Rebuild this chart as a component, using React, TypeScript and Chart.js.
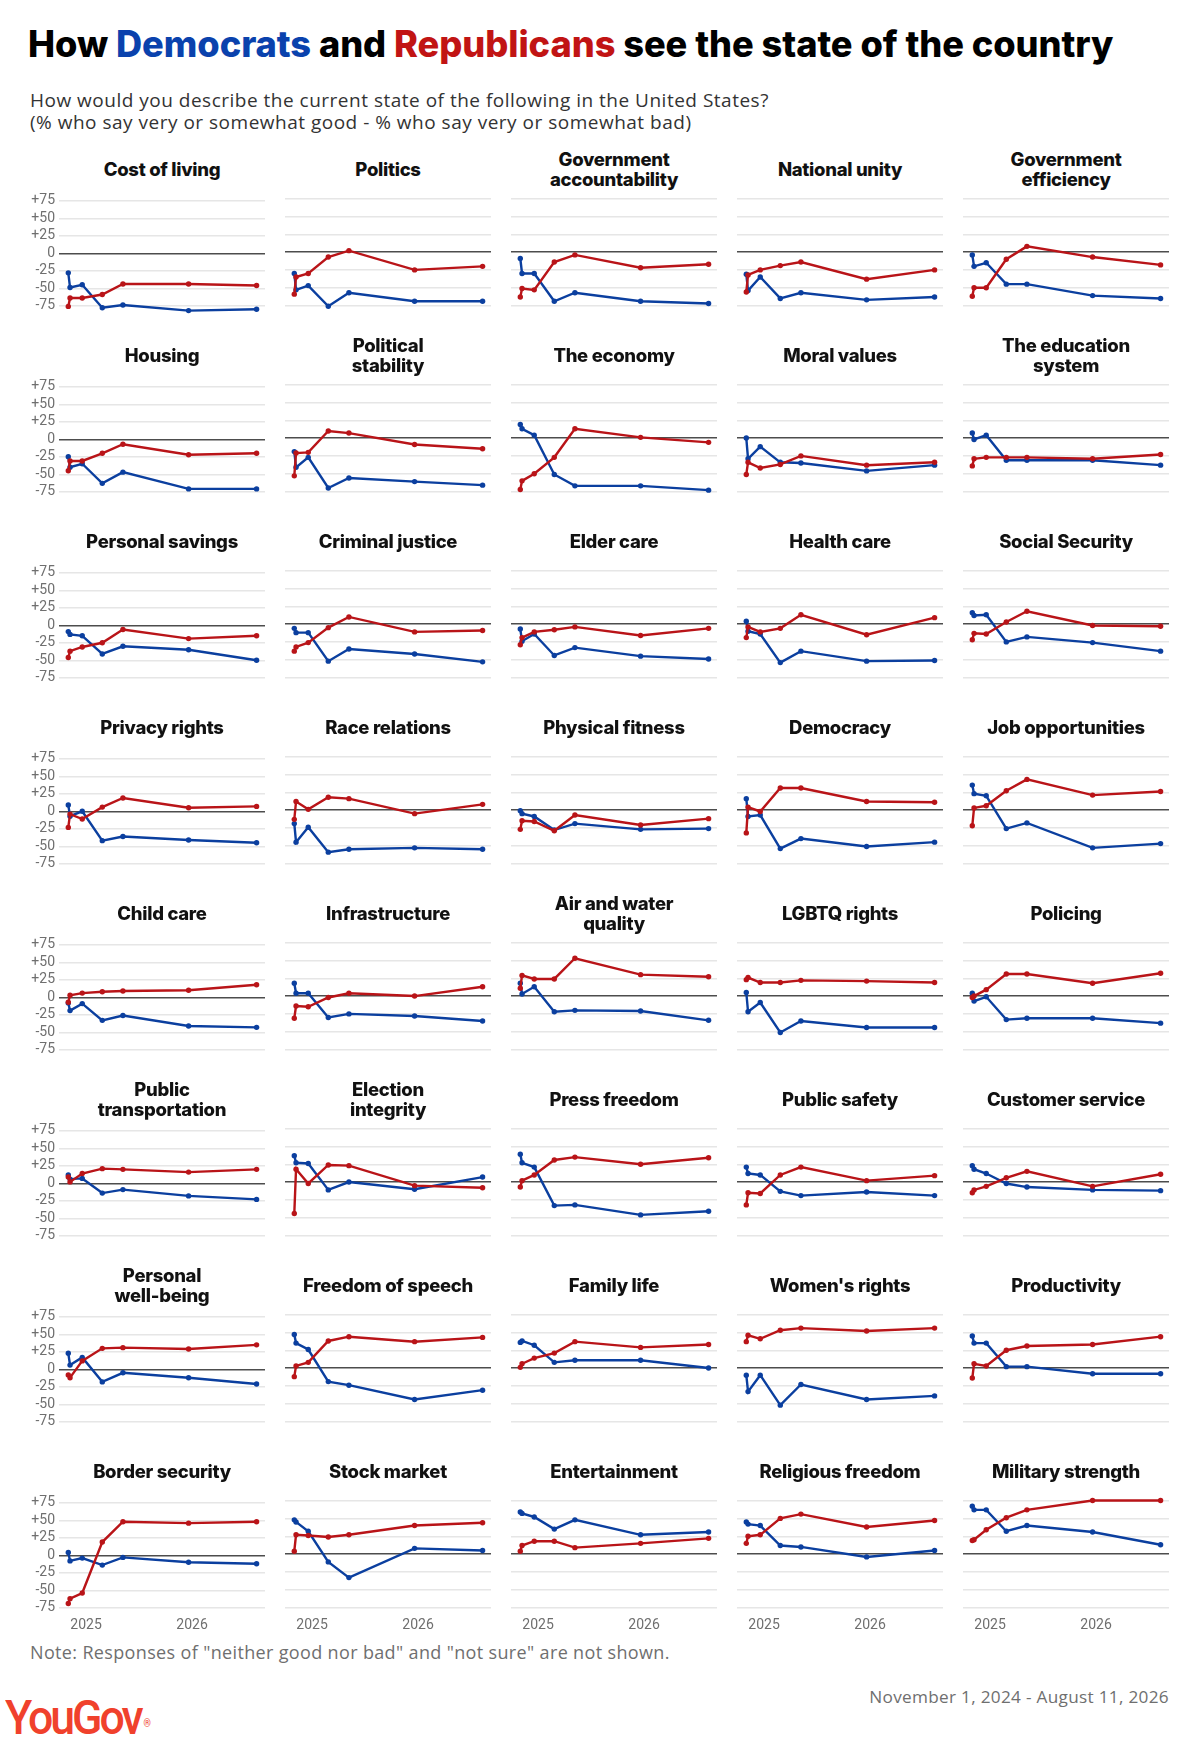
import React, { useEffect, useRef } from "react";
import { Chart, registerables } from "chart.js";

Chart.register(...registerables);

// ---------- DATA ----------
// survey dates, as days from January 1, 2025
const SURVEY_DAYS = [-61, -55, -13, 56, 127, 353, 587];
const X_TICKS = [0, 365];
const X_TICK_LABELS = ["2025", "2026"];
const Y_TICKS = [75, 50, 25, 0, -25, -50, -75];

const TOPICS = [
  "Cost of living", "Politics", "Government\naccountability", "National unity", "Government\nefficiency",
  "Housing", "Political\nstability", "The economy", "Moral values", "The education\nsystem",
  "Personal savings", "Criminal justice", "Elder care", "Health care", "Social Security",
  "Privacy rights", "Race relations", "Physical fitness", "Democracy", "Job opportunities",
  "Child care", "Infrastructure", "Air and water\nquality", "LGBTQ rights", "Policing",
  "Public\ntransportation", "Election\nintegrity", "Press freedom", "Public safety", "Customer service",
  "Personal\nwell-being", "Freedom of speech", "Family life", "Women's rights", "Productivity",
  "Border security", "Stock market", "Entertainment", "Religious freedom", "Military strength",
];

const DEMOCRATS = [
  [-28, -49, -45, -78, -74, -82, -80],
  [-30, -53, -47, -76, -57, -69, -69],
  [-9, -30, -30, -69, -57, -69, -72],
  [-31, -54, -35, -65, -57, -67, -63],
  [-4, -20, -15, -45, -45, -61, -65],
  [-25, -40, -35, -63, -47, -71, -71],
  [-19, -41, -27, -70, -56, -61, -66],
  [19, 13, 4, -51, -67, -67, -73],
  [0, -29, -12, -34, -35, -46, -38],
  [7, -2, 4, -31, -31, -31, -38],
  [-9, -13, -15, -41, -30, -35, -50],
  [-6, -12, -12, -52, -35, -42, -53],
  [-7, -24, -14, -44, -33, -45, -49],
  [4, -10, -14, -54, -38, -52, -51],
  [16, 12, 13, -25, -18, -26, -38],
  [9, -7, 0, -42, -36, -41, -45],
  [-19, -45, -24, -59, -55, -53, -55],
  [-1, -5, -9, -28, -19, -27, -26],
  [16, -9, -7, -54, -40, -51, -45],
  [35, 23, 20, -26, -18, -53, -47],
  [-8, -19, -9, -33, -26, -41, -43],
  [18, 4, 4, -30, -25, -28, -35],
  [18, 3, 13, -22, -20, -21, -34],
  [5, -22, -9, -51, -35, -44, -44],
  [4, -7, -1, -33, -31, -31, -38],
  [12, 6, 7, -14, -9, -18, -23],
  [37, 27, 26, -11, 0, -10, 7],
  [39, 27, 21, -33, -32, -46, -41],
  [21, 12, 10, -13, -19, -14, -19],
  [23, 18, 12, -2, -7, -11, -12],
  [23, 6, 17, -18, -5, -12, -21],
  [47, 35, 26, -19, -24, -44, -31],
  [36, 38, 32, 8, 11, 11, 0],
  [-10, -33, -10, -52, -23, -44, -39],
  [45, 35, 35, 2, 2, -8, -8],
  [4, -8, -4, -14, -3, -10, -12],
  [48, 45, 32, -11, -33, 8, 5],
  [59, 57, 52, 35, 48, 27, 31],
  [45, 42, 40, 12, 10, -4, 5],
  [67, 62, 62, 32, 40, 31, 13],
];

const REPUBLICANS = [
  [-76, -64, -64, -59, -44, -44, -46],
  [-59, -35, -30, -7, 2, -25, -20],
  [-63, -51, -53, -14, -4, -22, -17],
  [-56, -32, -25, -19, -14, -38, -25],
  [-62, -50, -50, -10, 8, -7, -18],
  [-45, -31, -31, -20, -7, -22, -20],
  [-53, -21, -20, 10, 7, -9, -15],
  [-72, -60, -50, -27, 13, 1, -6],
  [-51, -34, -42, -37, -25, -38, -34],
  [-39, -29, -27, -27, -27, -29, -23],
  [-46, -37, -31, -25, -6, -19, -15],
  [-38, -32, -26, -5, 10, -11, -9],
  [-29, -19, -11, -8, -4, -16, -6],
  [-19, -4, -11, -6, 13, -15, 9],
  [-22, -13, -14, 3, 18, -2, -3],
  [-23, -4, -11, 6, 19, 5, 7],
  [-13, 12, 1, 18, 16, -5, 8],
  [-27, -15, -16, -29, -7, -21, -12],
  [-32, 4, -2, 31, 31, 12, 11],
  [-22, 3, 6, 27, 43, 21, 26],
  [-7, 3, 6, 8, 9, 10, 18],
  [-31, -14, -15, -2, 4, 0, 13],
  [11, 29, 24, 24, 53, 30, 27],
  [23, 26, 19, 19, 22, 21, 19],
  [-2, 0, 9, 31, 31, 18, 32],
  [9, 2, 14, 21, 20, 16, 20],
  [-44, 18, -2, 24, 23, -5, -8],
  [-7, 2, 10, 31, 35, 25, 34],
  [-32, -15, -16, 10, 21, 2, 9],
  [-15, -11, -6, 6, 15, -6, 11],
  [-8, -12, 12, 30, 31, 29, 35],
  [-12, 3, 8, 38, 44, 37, 43],
  [1, 6, 14, 21, 37, 29, 33],
  [37, 46, 41, 53, 56, 52, 56],
  [-14, 6, 3, 25, 31, 33, 44],
  [-69, -62, -54, 19, 48, 46, 48],
  [4, 27, 26, 24, 27, 40, 44],
  [4, 12, 18, 18, 9, 15, 22],
  [15, 25, 27, 50, 56, 38, 47],
  [19, 20, 34, 51, 62, 75, 75],
];

// ---------- STYLE / LAYOUT ----------
const BLUE = "#0b3f9f";
const RED = "#b91418";
const TITLE_BLUE = "#0a42ad";
const TITLE_RED = "#c11414";
const FONT = "Roboto, 'Noto Sans', sans-serif";
const TEXT_FONT = "'Open Sans', Roboto, sans-serif";
const HEAVY_FONT = "Inter, Roboto, sans-serif";

const COLS = 5;
const COL_PITCH = 226;
const ROW_PITCH = 186;
const PLOT_LEFT = 59;
const PLOT_WIDTH = 206;
const GRID75_Y = 199;
const PX_PER_UNIT = 107 / 150;
const Y_MIN = -85;
const Y_MAX = 80;
const X_MIN = -93;
const X_MAX = 616;
const Y_AXIS_W = 52;
const PAD_TOP = 10;
const PAD_RIGHT = 8;
const X_AXIS_H = 22;
const CANVAS_W = Y_AXIS_W + PLOT_WIDTH + PAD_RIGHT;
const CANVAS_H = 152;
const PLOT_H = (Y_MAX - Y_MIN) * PX_PER_UNIT;
const PAD_BOTTOM = CANVAS_H - PAD_TOP - X_AXIS_H - PLOT_H;

function fmtY(v: number) {
  return v > 0 ? "+" + v : String(v);
}

function Panel({ index }: { index: number }) {
  const ref = useRef<HTMLCanvasElement | null>(null);
  const row = Math.floor(index / COLS);
  const col = index % COLS;
  const isFirstCol = col === 0;
  const isBottom = row === Math.floor((TOPICS.length - 1) / COLS);
  const left = PLOT_LEFT - Y_AXIS_W + col * COL_PITCH;
  const top = GRID75_Y - (Y_MAX - 75) * PX_PER_UNIT - PAD_TOP + row * ROW_PITCH;

  useEffect(() => {
    if (!ref.current) return;
    const mk = (vals: number[]) => SURVEY_DAYS.map((d, i) => ({ x: d, y: vals[i] }));
    const chart = new Chart(ref.current, {
      type: "line",
      data: {
        datasets: [
          {
            label: "Republicans",
            data: mk(REPUBLICANS[index]),
            borderColor: RED,
            backgroundColor: RED,
            borderWidth: 2.4,
            pointRadius: 2.7,
            pointBorderWidth: 0,
            pointHoverRadius: 0,
            tension: 0,
            clip: false as any,
          },
          {
            label: "Democrats",
            data: mk(DEMOCRATS[index]),
            borderColor: BLUE,
            backgroundColor: BLUE,
            borderWidth: 2.4,
            pointRadius: 2.7,
            pointBorderWidth: 0,
            pointHoverRadius: 0,
            tension: 0,
            clip: false as any,
          },
        ],
      },
      options: {
        animation: false,
        responsive: false,
        maintainAspectRatio: false,
        devicePixelRatio: 1,
        events: [],
        layout: { padding: { top: PAD_TOP, bottom: PAD_BOTTOM, left: 0, right: PAD_RIGHT } },
        plugins: {
          legend: { display: false },
          tooltip: { enabled: false },
          title: { display: false },
        },
        scales: {
          x: {
            type: "linear",
            min: X_MIN,
            max: X_MAX,
            grid: { display: false, drawTicks: false },
            border: { display: false },
            afterBuildTicks: (s: any) => {
              s.ticks = X_TICKS.map((v) => ({ value: v }));
            },
            afterFit: (s: any) => {
              s.height = X_AXIS_H;
            },
            ticks: {
              display: isBottom,
              autoSkip: false,
              maxRotation: 0,
              padding: 2,
              color: "#6f6f6f",
              font: { family: FONT, size: 14 },
              callback: (v: any) => X_TICK_LABELS[X_TICKS.indexOf(Number(v))] ?? "",
            },
          },
          y: {
            type: "linear",
            min: Y_MIN,
            max: Y_MAX,
            afterBuildTicks: (s: any) => {
              s.ticks = Y_TICKS.map((v) => ({ value: v }));
            },
            afterFit: (s: any) => {
              s.width = Y_AXIS_W;
            },
            grid: {
              drawTicks: false,
              color: (ctx: any) => (ctx.tick && ctx.tick.value === 0 ? "#4d4d4d" : "#e6e6e6"),
              lineWidth: (ctx: any) => (ctx.tick && ctx.tick.value === 0 ? 1.6 : 1.4),
            },
            border: { display: false },
            ticks: {
              display: isFirstCol,
              autoSkip: false,
              padding: 4,
              color: "#6f6f6f",
              font: { family: FONT, size: 14 },
              callback: (v: any) => fmtY(Number(v)),
            },
          },
        },
      },
    } as any);
    return () => chart.destroy();
  }, [index]);

  const titleCenterX = PLOT_LEFT + col * COL_PITCH + PLOT_WIDTH / 2;
  const titleCenterY = 169 + row * ROW_PITCH;

  return (
    <>
      <div
        style={{
          position: "absolute",
          left: titleCenterX - 110,
          width: 220,
          top: titleCenterY - 25,
          height: 50,
          display: "flex",
          alignItems: "center",
          justifyContent: "center",
          textAlign: "center",
          whiteSpace: "pre-line",
          fontFamily: HEAVY_FONT,
          fontWeight: 800,
          fontSize: 18.5,
          lineHeight: "20px",
          color: "#111",
          letterSpacing: "-0.3px",
        }}
      >
        {TOPICS[index]}
      </div>
      <canvas
        ref={ref}
        width={CANVAS_W}
        height={CANVAS_H}
        style={{ position: "absolute", left, top, width: CANVAS_W, height: CANVAS_H }}
      />
    </>
  );
}

export default function App() {
  return (
    <div style={{ position: "relative", width: 1200, height: 1739, background: "#fff", overflow: "hidden" }}>
      <style>{`html,body{margin:0;padding:0;background:#fff;}`}</style>
      <div
        style={{
          position: "absolute",
          left: 28,
          top: 21,
          fontFamily: HEAVY_FONT,
          fontWeight: 800,
          fontSize: 36.2,
          lineHeight: "46px",
          letterSpacing: "-0.05px",
          color: "#000",
          whiteSpace: "nowrap",
        }}
      >
        How <span style={{ color: TITLE_BLUE }}>Democrats</span> and{" "}
        <span style={{ color: TITLE_RED }}>Republicans</span> see the state of the country
      </div>
      <div
        style={{
          position: "absolute",
          left: 30,
          top: 89,
          fontFamily: TEXT_FONT,
          fontSize: 19,
          lineHeight: "22px",
          letterSpacing: "0.5px",
          color: "#333",
          whiteSpace: "nowrap",
        }}
      >
        How would you describe the current state of the following in the United States?
        <br />
        (% who say very or somewhat good - % who say very or somewhat bad)
      </div>
      {TOPICS.map((_, i) => (
        <Panel key={i} index={i} />
      ))}
      <div
        style={{
          position: "absolute",
          left: 30,
          top: 1641,
          fontFamily: TEXT_FONT,
          fontSize: 18,
          lineHeight: "22px",
          letterSpacing: "0.35px",
          color: "#6f6f6f",
          whiteSpace: "nowrap",
        }}
      >
        Note: Responses of "neither good nor bad" and "not sure" are not shown.
      </div>
      <div
        style={{
          position: "absolute",
          right: 31,
          top: 1686,
          fontFamily: TEXT_FONT,
          fontSize: 17.2,
          lineHeight: "22px",
          letterSpacing: "0.3px",
          color: "#6f6f6f",
          whiteSpace: "nowrap",
        }}
      >
        November 1, 2024 - August 11, 2026
      </div>
      <div
        style={{
          position: "absolute",
          left: 5,
          top: 1692,
          fontFamily: "Roboto, sans-serif",
          fontWeight: 500,
          fontSize: 48,
          lineHeight: "52px",
          letterSpacing: "-3.2px",
          color: "#f0412c",
          whiteSpace: "nowrap",
          transform: "scaleX(0.93)",
          transformOrigin: "left top",
        }}
      >
        YouGov<span style={{ fontSize: 10, verticalAlign: "top", letterSpacing: 0, position: "relative", top: 6, left: 3 }}>®</span>
      </div>
    </div>
  );
}
